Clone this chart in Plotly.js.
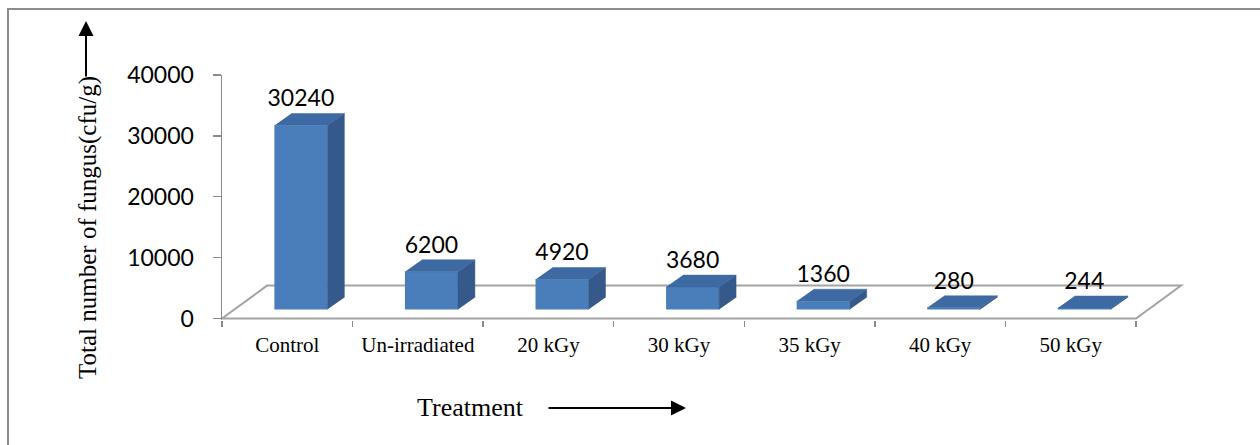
<!DOCTYPE html>
<html>
<head>
<meta charset="utf-8">
<script src="https://cdn.plot.ly/plotly-3.0.1.min.js"></script>
<style>
  html, body { margin: 0; padding: 0; background: #ffffff; }
  #chart { width: 1260px; height: 445px; }
</style>
</head>
<body>
<div id="chart"></div>
<script>
// Fungal load per treatment
const categories = ['Control', 'Un-irradiated', '20 kGy', '30 kGy', '35 kGy', '40 kGy', '50 kGy'];
const counts = [30240, 6200, 4920, 3680, 1360, 280, 244];
const yTickValues = [0, 10000, 20000, 30000, 40000];
const yTickLabels = ['0', '10000', '20000', '30000', '40000'];

// Page geometry
const W = 1260, H = 445;
const M = { l: 222, r: 60, t: 75, b: 125 };
const plotW = W - M.l - M.r;
const plotH = H - M.t - M.b;
const X_MAX = 7.49;           // category units visible across the plot width
const Y_RANGE = [-250, 40000];

const px2paperX = px => (px - M.l) / plotW;
const px2paperY = py => (H - M.b - py) / plotH;

// Pseudo-3D projection, in axis units
const FLOOR_DX = 0.345, FLOOR_DY = 5400;   // depth of the floor
const BAR_SHIFT = 0.104, BAR_BASE = 1475;  // front plane of the bars sits inside the floor
const BAR_W = 0.406;                       // front face width
const BAR_DX = 0.13, BAR_DY = 1970;        // depth of each bar

const FRONT = '#4a7ebb', SIDE = '#35598b', TOP = '#3e6aa3';
const GRAY = '#8a8a8a';

const nCat = categories.length;
const centers = categories.map((_, i) => i + 0.5 + BAR_SHIFT);

// Side and top faces as filled polygons, one segment per bar
const sideX = [], sideY = [], topX = [], topY = [];
counts.forEach((v, i) => {
  const xl = centers[i] - BAR_W / 2, xr = centers[i] + BAR_W / 2;
  const b = BAR_BASE, t = BAR_BASE + v;
  sideX.push(xr, xr, xr + BAR_DX, xr + BAR_DX, null);
  sideY.push(b, t, t + BAR_DY, b + BAR_DY, null);
  topX.push(xl, xr, xr + BAR_DX, xl + BAR_DX, null);
  topY.push(t, t, t + BAR_DY, t + BAR_DY, null);
});

const traces = [
  {
    type: 'bar',
    x: centers,
    y: counts,
    base: counts.map(() => BAR_BASE),
    width: BAR_W,
    marker: { color: FRONT, line: { width: 0 } },
    hoverinfo: 'skip'
  },
  {
    type: 'scatter', mode: 'lines',
    x: sideX, y: sideY, fill: 'toself', fillcolor: SIDE,
    line: { width: 0.5, color: SIDE }, hoverinfo: 'skip'
  },
  {
    type: 'scatter', mode: 'lines',
    x: topX, y: topY, fill: 'toself', fillcolor: TOP,
    line: { width: 0.5, color: TOP }, hoverinfo: 'skip'
  },
  {
    type: 'scatter', mode: 'text',
    x: centers,
    y: counts.map(v => BAR_BASE + v + BAR_DY + 250),
    text: counts.map(String),
    textposition: 'top center',
    textfont: { family: 'Lato, Carlito, sans-serif', size: 23, color: '#000000' },
    cliponaxis: false,
    hoverinfo: 'skip'
  }
];

const serif = 'Liberation Serif, Times New Roman, serif';

const layout = {
  width: W, height: H,
  margin: M,
  paper_bgcolor: '#ffffff',
  plot_bgcolor: 'rgba(0,0,0,0)',
  showlegend: false,
  xaxis: {
    range: [0, X_MAX],
    tickmode: 'array',
    tickvals: categories.map((_, i) => i + 0.5),
    ticktext: categories,
    ticks: '',
    tickfont: { family: serif, size: 21, color: '#000000' },
    ticklabelstandoff: 10,
    minor: {
      tickmode: 'array',
      tickvals: categories.map((_, i) => i).concat([nCat]),
      ticks: 'outside', ticklen: 6, tickwidth: 1.5, tickcolor: GRAY
    },
    showline: false, showgrid: false, zeroline: false,
    fixedrange: true
  },
  yaxis: {
    range: Y_RANGE,
    tickmode: 'array',
    tickvals: yTickValues,
    ticktext: yTickLabels,
    ticks: 'outside', ticklen: 8, tickwidth: 1.5, tickcolor: GRAY,
    showline: true, linecolor: GRAY, linewidth: 1.5,
    showgrid: false, zeroline: false,
    tickfont: { family: 'Lato, Carlito, sans-serif', size: 23, color: '#000000' },
    ticklabelstandoff: 14,
    fixedrange: true
  },
  shapes: [
    // floor outline
    {
      type: 'path', xref: 'x', yref: 'y', layer: 'below',
      path: `M 0,0 L ${nCat},0 L ${nCat + FLOOR_DX},${FLOOR_DY} L ${FLOOR_DX},${FLOOR_DY} Z`,
      line: { color: '#a3a3a3', width: 2 },
      fillcolor: 'rgba(0,0,0,0)'
    },
    // frame
    {
      type: 'rect', xref: 'paper', yref: 'paper', layer: 'below',
      x0: px2paperX(8), x1: px2paperX(1275),
      y0: px2paperY(460), y1: px2paperY(9),
      line: { color: '#8c8c8c', width: 2 },
      fillcolor: 'rgba(0,0,0,0)'
    }
  ],
  annotations: [
    {
      xref: 'paper', yref: 'paper',
      x: px2paperX(88), y: px2paperY(228),
      text: 'Total number of fungus(cfu/g)',
      textangle: -90, showarrow: false,
      xanchor: 'center', yanchor: 'middle',
      font: { family: serif, size: 25, color: '#000000' }
    },
    {
      xref: 'paper', yref: 'paper',
      x: px2paperX(86), y: px2paperY(21),
      text: '', showarrow: true,
      ax: 0, ay: 57, arrowhead: 2, arrowsize: 1.5, arrowwidth: 2, arrowcolor: '#000000'
    },
    {
      xref: 'paper', yref: 'paper',
      x: px2paperX(470), y: px2paperY(408),
      text: 'Treatment', showarrow: false,
      xanchor: 'center', yanchor: 'middle',
      font: { family: serif, size: 26, color: '#000000' }
    },
    {
      xref: 'paper', yref: 'paper',
      x: px2paperX(686), y: px2paperY(408),
      text: '', showarrow: true,
      ax: -139, ay: 0, arrowhead: 2, arrowsize: 1.5, arrowwidth: 2, arrowcolor: '#000000'
    }
  ]
};

Plotly.newPlot('chart', traces, layout, { staticPlot: true, displayModeBar: false });
</script>
</body>
</html>
